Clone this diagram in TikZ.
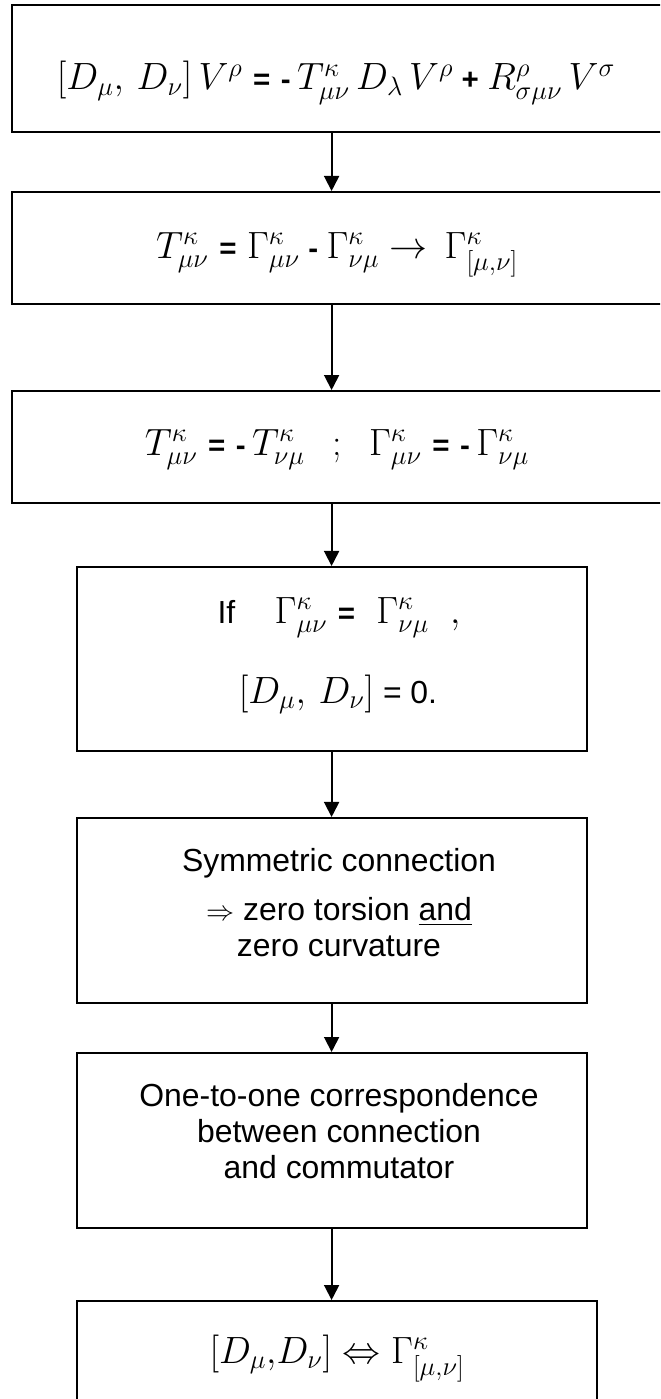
\RequirePackage{fix-cm}
\documentclass[tikz,border=0pt]{standalone}
\usepackage{amsmath,amssymb}
\usepackage{fontspec}
\newfontfamily\lsans{Liberation Sans}
\usepackage{tikz}
\usetikzlibrary{arrows.meta,positioning,calc}
\newcommand{\mathsz}{\fontsize{27}{31}\selectfont}
\newcommand{\sgn}[1]{\text{\fontsize{21}{21}\selectfont\bfseries #1}}
\newcommand{\Eq}{\mathrel{\sgn{=}}}
\newcommand{\Mn}{\sgn{-}\,}
\newcommand{\Mb}{\mathbin{\sgn{-}}}
\newcommand{\Pl}{\mathbin{\sgn{+}}}

\begin{document}
\begin{tikzpicture}[x=0.025cm,y=-0.025cm,
   box/.style={draw,line width=1.4pt,inner sep=0pt},
   mth/.style={inner sep=0pt,font=\lsans\mathsz},
   txt/.style={inner sep=0pt,align=center,font=\lsans\fontsize{22.7}{25.6}\selectfont},
   arr/.style={line width=1.3pt,-{Triangle[length=0.375cm,width=0.375cm]}}]
  \useasboundingbox (0,0) rectangle (660,1399);
  \clip (0,0) rectangle (660,1399);
  \node[box,minimum width=17.7cm,minimum height=3.175cm] (b1) at (366,68.5) {};
  \node[box,minimum width=17.7cm,minimum height=2.8cm] (b2) at (366,248) {};
  \node[box,minimum width=17.7cm,minimum height=2.8cm] (b3) at (366,447) {};
  \node[box,minimum width=12.75cm,minimum height=4.6cm] (b4) at (331.6,659) {};
  \node[box,minimum width=12.75cm,minimum height=4.625cm] (b5) at (331.6,910.5) {};
  \node[box,minimum width=12.75cm,minimum height=4.375cm] (b6) at (331.6,1140.5) {};
  \node[box,minimum width=13cm,minimum height=3.225cm] (b7) at (336.7,1365.5) {};

  \node[mth,anchor=base] (e1) at (336,90)
    {$[D_\mu,\, D_\nu]\, V^\rho \Eq \Mn T^\kappa_{\mu\nu}\, D_\lambda\, V^\rho \Pl R^\rho_{\sigma\mu\nu}\, V^\sigma$};
  \node[mth,anchor=base] (e2) at (337,258)
    {$T^\kappa_{\mu\nu} \Eq \Gamma^\kappa_{\mu\nu} \Mb \Gamma^\kappa_{\nu\mu} \to\, \Gamma^\kappa_{[\mu,\nu]}$};
  \node[mth,anchor=base] (e3) at (337,455)
    {$T^\kappa_{\mu\nu} \Eq \Mn T^\kappa_{\nu\mu} \;\;\,{;}\;\;\, \Gamma^\kappa_{\mu\nu} \Eq \Mn \Gamma^\kappa_{\nu\mu}$};
  \node[txt,anchor=base] (e4a) at (339,623)
    {If\hspace{28pt}{\mathsz$\Gamma^\kappa_{\mu\nu} \Eq\; \Gamma^\kappa_{\nu\mu}\;\;,$}};
  \node[txt,anchor=base] (e4b) at (338,703) {{\mathsz$[D_\mu,\, D_\nu]$} = 0.};
  \node[txt,anchor=north] (e5) at (339,848)
    {Symmetric connection\\[9pt]{\fontsize{20}{20}\selectfont$\Rightarrow$} zero torsion \underline{and}\\zero curvature};
  \node[txt,anchor=north] (e6) at (339,1083)
    {One-to-one correspondence\\between connection\\and commutator};
  \node[mth,anchor=base] (e7) at (337,1363)
    {$[D_\mu{,}D_\nu] \Leftrightarrow \Gamma^\kappa_{[\mu,\nu]}$};

  \draw[arr] (b1.south -| b4) -- (b2.north -| b4);
  \draw[arr] (b2.south -| b4) -- (b3.north -| b4);
  \draw[arr] (b3.south -| b4) -- (b4.north);
  \draw[arr] (b4.south) -- (b5.north);
  \draw[arr] (b5.south) -- (b6.north);
  \draw[arr] (b6.south) -- (b6.south |- b7.north);
\end{tikzpicture}
\end{document}
